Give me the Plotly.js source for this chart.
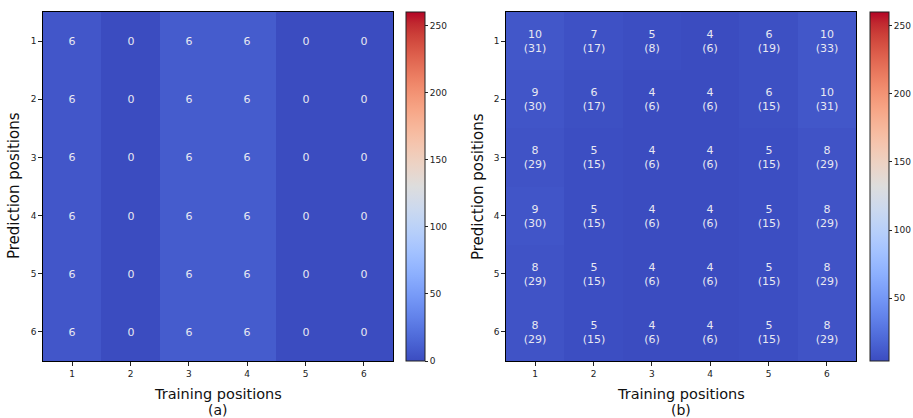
<!DOCTYPE html>
<html><head><meta charset="utf-8">
<script src="https://cdn.plot.ly/plotly-3.0.1.min.js"></script>
<style>html,body{margin:0;padding:0;background:#fff;}</style>
</head><body><div id="chart" style="width:913px;height:418px;"></div>
<script>
const positions = [1, 2, 3, 4, 5, 6];
// Panel (a): displayed values
const aValues = [
  [6, 0, 6, 6, 0, 0],
  [6, 0, 6, 6, 0, 0],
  [6, 0, 6, 6, 0, 0],
  [6, 0, 6, 6, 0, 0],
  [6, 0, 6, 6, 0, 0],
  [6, 0, 6, 6, 0, 0]
];
// Panel (a): colour values estimated from the cell shading
const aColor = [
  [6, 0, 9, 9, 0, 0],
  [6, 0, 9, 9, 0, 0],
  [6, 0, 9, 9, 0, 0],
  [6, 0, 9, 9, 0, 0],
  [6, 0, 9, 9, 0, 0],
  [6, 0, 9, 9, 0, 0]
];
// Panel (b): main value and value in parentheses
const bValues = [
  [10, 7, 5, 4, 6, 10],
  [9, 6, 4, 4, 6, 10],
  [8, 5, 4, 4, 5, 8],
  [9, 5, 4, 4, 5, 8],
  [8, 5, 4, 4, 5, 8],
  [8, 5, 4, 4, 5, 8]
];
const bParen = [
  [31, 17, 8, 6, 19, 33],
  [30, 17, 6, 6, 15, 31],
  [29, 15, 6, 6, 15, 29],
  [30, 15, 6, 6, 15, 29],
  [29, 15, 6, 6, 15, 29],
  [29, 15, 6, 6, 15, 29]
];
const aColorTicks = [0, 50, 100, 150, 200, 250];
const bColorTicks = [50, 100, 150, 200, 250];

const coolwarm = [
 [0,'rgb(59,76,192)'],[0.03125,'rgb(68,90,204)'],[0.0625,'rgb(77,104,215)'],[0.09375,'rgb(87,117,225)'],
 [0.125,'rgb(98,130,234)'],[0.15625,'rgb(108,142,241)'],[0.1875,'rgb(119,154,247)'],[0.21875,'rgb(130,165,251)'],
 [0.25,'rgb(141,176,254)'],[0.28125,'rgb(152,185,255)'],[0.3125,'rgb(163,194,255)'],[0.34375,'rgb(174,201,253)'],
 [0.375,'rgb(184,208,249)'],[0.40625,'rgb(194,213,244)'],[0.4375,'rgb(204,217,238)'],[0.46875,'rgb(213,219,230)'],
 [0.5,'rgb(221,221,221)'],[0.53125,'rgb(229,216,209)'],[0.5625,'rgb(236,211,197)'],[0.59375,'rgb(241,204,185)'],
 [0.625,'rgb(245,196,173)'],[0.65625,'rgb(247,187,160)'],[0.6875,'rgb(247,177,148)'],[0.71875,'rgb(247,166,135)'],
 [0.75,'rgb(244,154,123)'],[0.78125,'rgb(241,141,111)'],[0.8125,'rgb(236,127,99)'],[0.84375,'rgb(229,112,88)'],
 [0.875,'rgb(222,96,77)'],[0.90625,'rgb(213,80,66)'],[0.9375,'rgb(203,62,56)'],[0.96875,'rgb(192,40,47)'],
 [1,'rgb(180,4,38)']
];

const W = 913, H = 418;
const px = v => v / W, py = v => 1 - v / H;
const FONT = 'DejaVu Sans, sans-serif';

const aText = aValues.map(r => r.map(v => String(v)));
const bText = bValues.map((r, i) => r.map((v, j) => v + '<br>(' + bParen[i][j] + ')'));

function cbar(left, ticks) {
  return {
    x: px(left), xanchor: 'left', xref: 'paper',
    y: py(12), yanchor: 'top', yref: 'paper',
    len: (361 - 12) / H, lenmode: 'fraction',
    thickness: 19, thicknessmode: 'pixels',
    xpad: 0, ypad: 0,
    outlinewidth: 1, outlinecolor: '#222',
    tickvals: ticks, ticktext: ticks.map(String),
    ticks: 'outside', ticklen: 3, tickcolor: '#222',
    tickfont: {family: FONT, size: 9, color: '#222'}
  };
}

const traces = [
  {type: 'heatmap', x: positions, y: positions, z: aColor, text: aText,
   texttemplate: '%{text}', textfont: {family: FONT, size: 11, color: '#e8e8f2'},
   colorscale: coolwarm, zmin: 0, zmax: 260, xaxis: 'x', yaxis: 'y',
   colorbar: cbar(406, aColorTicks), hoverinfo: 'skip'},
  {type: 'heatmap', x: positions, y: positions, z: bValues, text: bText,
   texttemplate: '%{text}', textfont: {family: FONT, size: 11, color: '#e8e8f2'},
   colorscale: coolwarm, zmin: 4, zmax: 260, xaxis: 'x2', yaxis: 'y2',
   colorbar: cbar(870, bColorTicks), hoverinfo: 'skip'}
];

function xax(l, r, anchor) {
  return {domain: [px(l), px(r)], anchor: anchor, range: [0.5, 6.5], tickvals: positions,
    ticks: 'outside', ticklen: 3.5, tickcolor: '#222', showgrid: false, zeroline: false,
    showline: true, mirror: true, linecolor: '#000', linewidth: 1.2,
    tickfont: {family: FONT, size: 9, color: '#222'}};
}
function yax(anchor) {
  return {domain: [py(361), py(12)], anchor: anchor, range: [6.5, 0.5], tickvals: positions,
    ticks: 'outside', ticklen: 3.5, tickcolor: '#222', showgrid: false, zeroline: false,
    showline: true, mirror: true, linecolor: '#000', linewidth: 1.2,
    tickfont: {family: FONT, size: 9, color: '#222'}};
}

const ann = (text, x, y, angle, size) => ({text: text, x: px(x), y: py(y), xref: 'paper', yref: 'paper',
  showarrow: false, textangle: angle || 0, xanchor: 'center', yanchor: 'middle',
  borderpad: 0, font: {family: FONT, size: size || 15, color: '#111'}});

const layout = {
  width: W, height: H, margin: {l: 0, r: 0, t: 0, b: 0},
  paper_bgcolor: '#fff', plot_bgcolor: '#fff', showlegend: false,
  xaxis: xax(43, 393, 'y'), yaxis: yax('x'),
  xaxis2: xax(506, 856, 'y2'), yaxis2: yax('x2'),
  annotations: [
    ann('Prediction positions', 14, 186, -90),
    ann('Prediction positions', 478, 186, -90),
    ann('Training positions', 218, 393.5, 0, 14.5),
    ann('(a)', 218, 409.8, 0, 14),
    ann('Training positions', 681, 393.5, 0, 14.5),
    ann('(b)', 681, 409.8, 0, 14)
  ]
};

Plotly.newPlot('chart', traces, layout, {staticPlot: true, displayModeBar: false});
</script></body></html>
